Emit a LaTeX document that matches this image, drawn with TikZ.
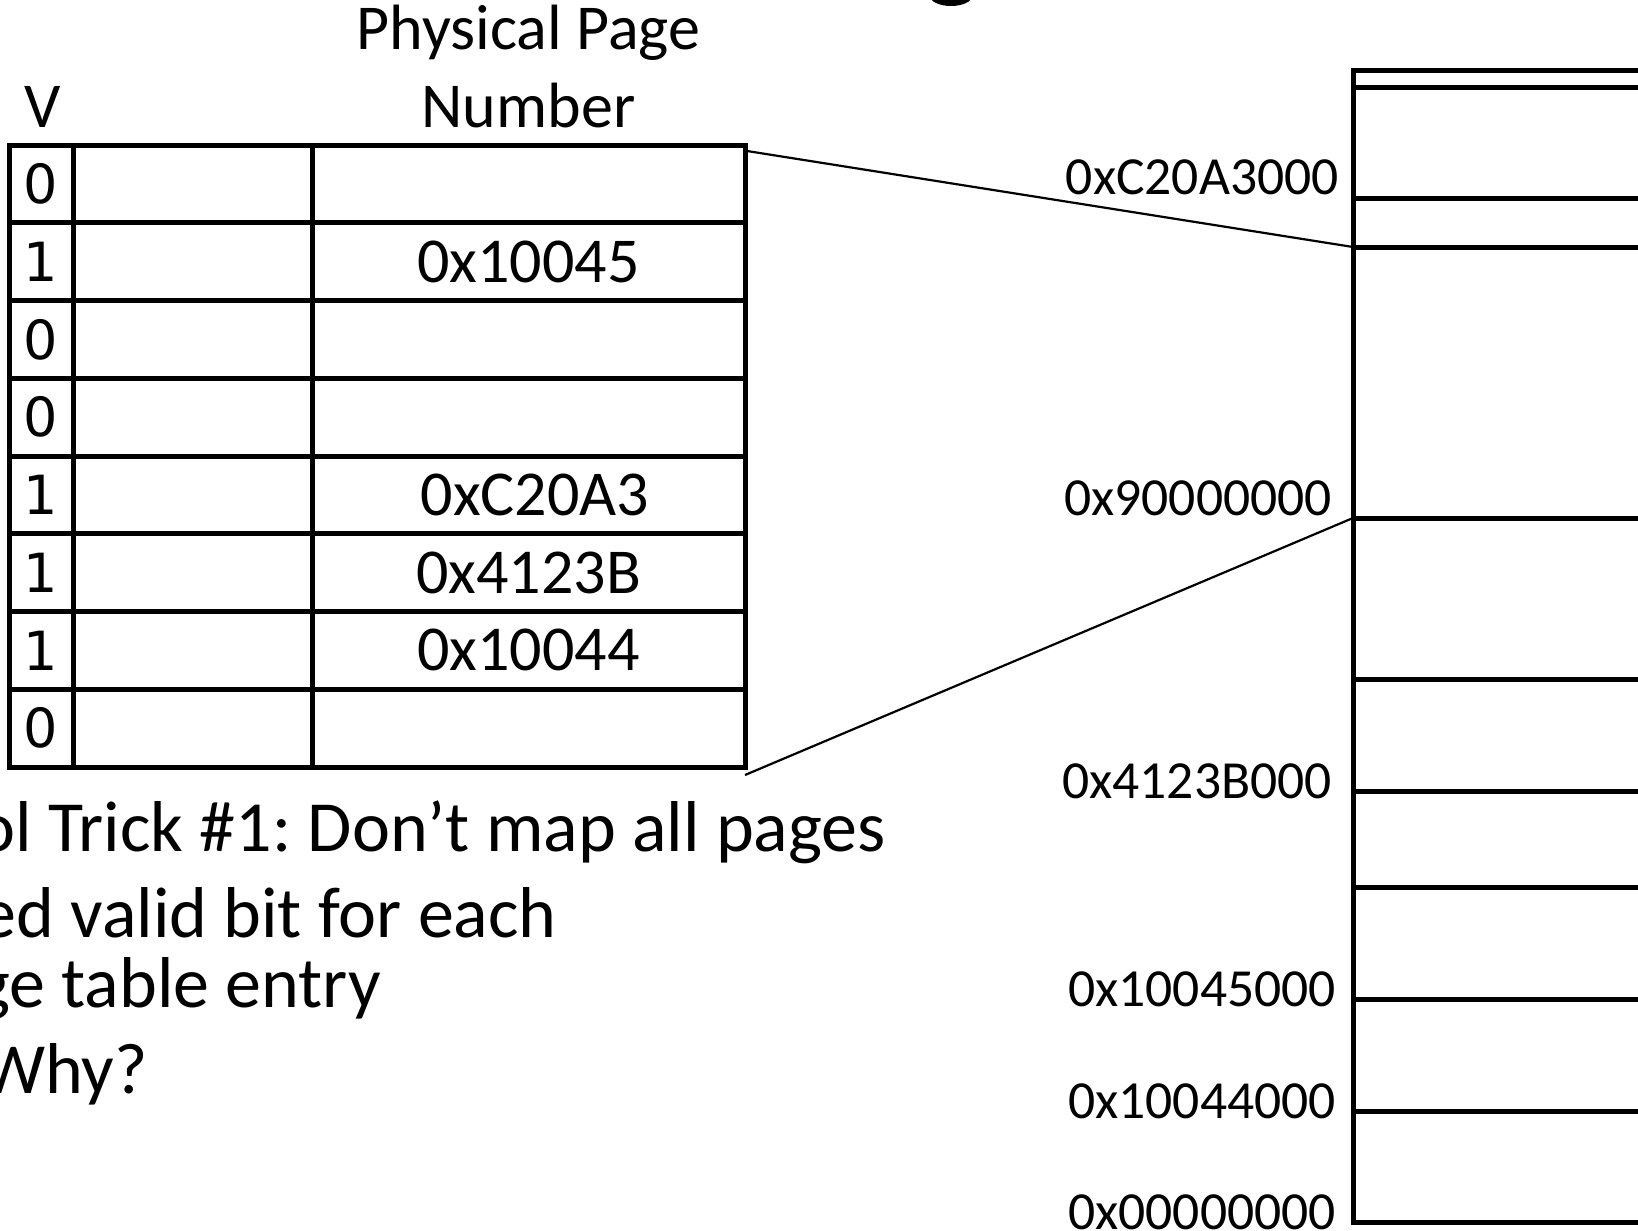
\documentclass[tikz,border=0pt]{standalone}
\usepackage{fontspec}
\setmainfont{Carlito}
\newfontfamily\digitfont{DejaVu Sans}
\frenchspacing
\begin{document}
\begin{tikzpicture}[x=1pt,y=-1pt,
  grid/.style={line width=5pt},
  conn/.style={line width=2.2pt},
  lbl/.style={inner sep=0pt, font=\fontsize{53.6}{62}\selectfont, anchor=east},
  ppn/.style={inner sep=0pt, font=\fontsize{64}{76}\selectfont},
  head/.style={inner sep=0pt, font=\fontsize{64}{76}\selectfont, anchor=base},
  vbit/.style={inner sep=0pt, font=\digitfont\fontsize{54}{64}\selectfont},
  body/.style={inner sep=0pt, font=\fontsize{72}{86}\selectfont, anchor=base east}]
\useasboundingbox (0,0) rectangle (1638,1231);
\clip (0,0) rectangle (1638,1231);
\fill[white] (0,0) rectangle (1638,1231);

% fragment of the cut-off title
\fill (951,-4) ellipse [x radius=21, y radius=10];

% table headers
\node[head] (hV) at (43,127) {V};
\node[head] (hPPN1) at (528.5,50) {Physical Page};
\node[head] (hPPN2) at (528.5,127) {Number};

% page table grid
\draw[grid] (9,145) rectangle (745,767);
\foreach \yy in {222.75,300.5,378.25,456,533.75,611.5,689.25}
  \draw[grid] (9,\yy) -- (745,\yy);
\draw[grid] (73,145) -- (73,767);
\draw[grid] (312,145) -- (312,767);

% valid bits
\node[vbit] (v1) at (41,183.9) {0};
\node[vbit] (v2) at (41,261.6) {1};
\node[vbit] (v3) at (41,339.4) {0};
\node[vbit] (v4) at (41,417.1) {0};
\node[vbit] (v5) at (41,494.9) {1};
\node[vbit] (v6) at (41,572.6) {1};
\node[vbit] (v7) at (41,650.4) {1};
\node[vbit] (v8) at (41,728.1) {0};

% physical page numbers
\node[ppn] (p2) at (528.5,261.6) {0x10045};
\node[ppn] (p5) at (535,494.9) {0xC20A3};
\node[ppn] (p6) at (528.5,572.6) {0x4123B};
\node[ppn] (p7) at (528.5,650.4) {0x10044};

% physical memory
\draw[grid] (1700,71) -- (1353,71) -- (1353,1222) -- (1700,1222);
\foreach \yy in {87,198,247,518,679,791,887,999,1111}
  \draw[grid] (1353,\yy) -- (1700,\yy);

% address labels
\node[lbl] (aC20) at (1339,177.6) {0xC20A3000};
\node[lbl] (a900) at (1332,498.3) {0x90000000};
\node[lbl] (a412) at (1332,781.4) {0x4123B000};
\node[lbl] (a045) at (1336,989.2) {0x10045000};
\node[lbl] (a044) at (1336,1101) {0x10044000};
\node[lbl] (a000) at (1336,1211.8) {0x00000000};

% connectors
\coordinate (tTop) at (747,151);
\coordinate (tBot) at (745,775);
\coordinate (mTop) at (1353,247);
\coordinate (mBot) at (1353,518);
\draw[conn] (tTop) -- (mTop);
\draw[conn] (tBot) -- (mBot);

% body text
\node[body] (l1) at (886,851) {ol Trick \#1: Don’t map all pages};
\node[body] (l2) at (557,937) {ed valid bit for each};
\node[body] (l3) at (381,1007) {ge table entry};
\node[body] (l4) at (148,1093) {Why?};
\end{tikzpicture}
\end{document}
